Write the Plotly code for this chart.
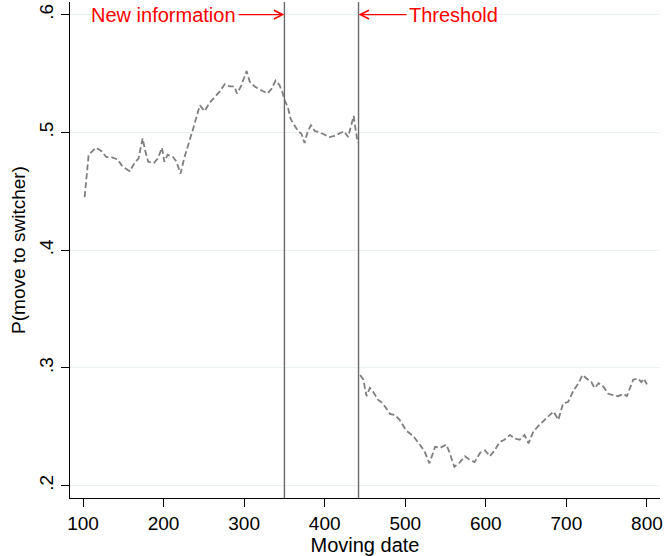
import plotly.graph_objects as go

# moving date / P(move to switcher)
pre_dates = [102, 107, 116, 123, 129, 135, 143, 149, 158, 164, 169, 174, 177, 181, 188,
             193, 198, 201, 205, 212, 216, 221, 226, 232, 238, 245, 251, 257, 263, 270,
             276, 282, 288, 291, 296, 300, 303, 307, 313, 318, 323, 329, 334, 339, 344,
             348, 351, 354, 358, 363, 367, 371, 375, 379, 383, 388, 394, 400, 406, 412,
             419, 424, 429, 433, 436, 438, 441]
pre_probs = [0.445, 0.481, 0.487, 0.484, 0.479, 0.479, 0.477, 0.471, 0.467, 0.474,
             0.478, 0.495, 0.485, 0.475, 0.474, 0.478, 0.487, 0.475, 0.481, 0.479,
             0.475, 0.465, 0.479, 0.492, 0.506, 0.523, 0.518, 0.525, 0.530, 0.535,
             0.541, 0.539, 0.539, 0.533, 0.539, 0.546, 0.552, 0.543, 0.539, 0.537,
             0.535, 0.533, 0.537, 0.544, 0.540, 0.533, 0.526, 0.522, 0.511, 0.506,
             0.501, 0.499, 0.491, 0.501, 0.506, 0.501, 0.500, 0.498, 0.496, 0.497,
             0.499, 0.501, 0.496, 0.506, 0.514, 0.504, 0.491]

post_dates = [444, 448, 452, 456, 460, 466, 472, 481, 487, 493, 501, 510, 518, 524, 530,
              537, 543, 551, 555, 561, 568, 574, 580, 586, 593, 599, 605, 611, 617, 623,
              630, 636, 642, 648, 653, 659, 667, 675, 684, 690, 696, 702, 709, 715, 720,
              725, 731, 735, 740, 746, 752, 758, 764, 771, 775, 779, 783, 789, 793, 796,
              800]
post_probs = [0.294, 0.290, 0.276, 0.283, 0.280, 0.273, 0.270, 0.261, 0.260, 0.256,
              0.247, 0.242, 0.235, 0.229, 0.219, 0.233, 0.232, 0.235, 0.228, 0.216,
              0.220, 0.225, 0.222, 0.220, 0.228, 0.230, 0.225, 0.230, 0.237, 0.239,
              0.243, 0.240, 0.239, 0.243, 0.236, 0.246, 0.252, 0.257, 0.263, 0.256,
              0.270, 0.271, 0.281, 0.287, 0.294, 0.291, 0.288, 0.283, 0.287, 0.284,
              0.278, 0.277, 0.276, 0.278, 0.276, 0.283, 0.290, 0.291, 0.288, 0.291,
              0.286]

new_info_date = 350
threshold_date = 442

x_ticks = [100, 200, 300, 400, 500, 600, 700, 800]
y_ticks = [0.2, 0.3, 0.4, 0.5, 0.6]
y_tick_labels = ['.2', '.3', '.4', '.5', '.6']

FONT = 'Liberation Sans, Arial, sans-serif'
line_style = dict(color='#7f7f7f', width=1.8, dash='6px,3px')

fig = go.Figure()
fig.add_trace(go.Scatter(x=pre_dates, y=pre_probs, mode='lines', line=line_style,
                         showlegend=False))
fig.add_trace(go.Scatter(x=post_dates, y=post_probs, mode='lines', line=line_style,
                         showlegend=False))

for d in (new_info_date, threshold_date):
    fig.add_vline(x=d, line=dict(color='#6a6a6a', width=1.4))

# labels with arrows pointing at the two dates
fig.add_annotation(x=new_info_date, y=0.6, ax=200, ay=0.6, axref='x', ayref='y',
                   text='New information', showarrow=True, arrowhead=5, arrowsize=1.3,
                   arrowwidth=1.3, arrowcolor='red', borderpad=2,
                   font=dict(family=FONT, size=20, color='red'))
fig.add_annotation(x=threshold_date, y=0.6, ax=560, ay=0.6, axref='x', ayref='y',
                   text='Threshold', showarrow=True, arrowhead=5, arrowsize=1.3,
                   arrowwidth=1.3, arrowcolor='red', borderpad=2,
                   font=dict(family=FONT, size=20, color='red'))

fig.update_layout(
    width=664, height=556,
    margin=dict(l=70, r=4, t=2, b=58),
    plot_bgcolor='white', paper_bgcolor='white',
    font=dict(family=FONT, size=19, color='black'),
    xaxis=dict(range=[83.85, 816.2], tickvals=x_ticks, showgrid=False, zeroline=False,
               showline=True, linecolor='black', linewidth=1.2, automargin=False,
               ticks='outside', ticklen=8, tickcolor='black',
               title=dict(text='Moving date', standoff=1, font=dict(size=20))),
    yaxis=dict(range=[0.18955, 0.6107], tickvals=y_ticks, ticktext=y_tick_labels,
               tickangle=-90, showgrid=True, gridcolor='#eaf2f3', gridwidth=1.2,
               zeroline=False, showline=True, linecolor='black', linewidth=1.2,
               automargin=False, ticks='outside', ticklen=8, tickcolor='black',
               title=dict(text='P(move to switcher)', standoff=5, font=dict(size=19))),
)

# drop the page's default body margin so the figure sits at the top-left corner
fig.write_html('out.html', config={'displayModeBar': False},
               post_script="document.body.style.margin = '0';")
